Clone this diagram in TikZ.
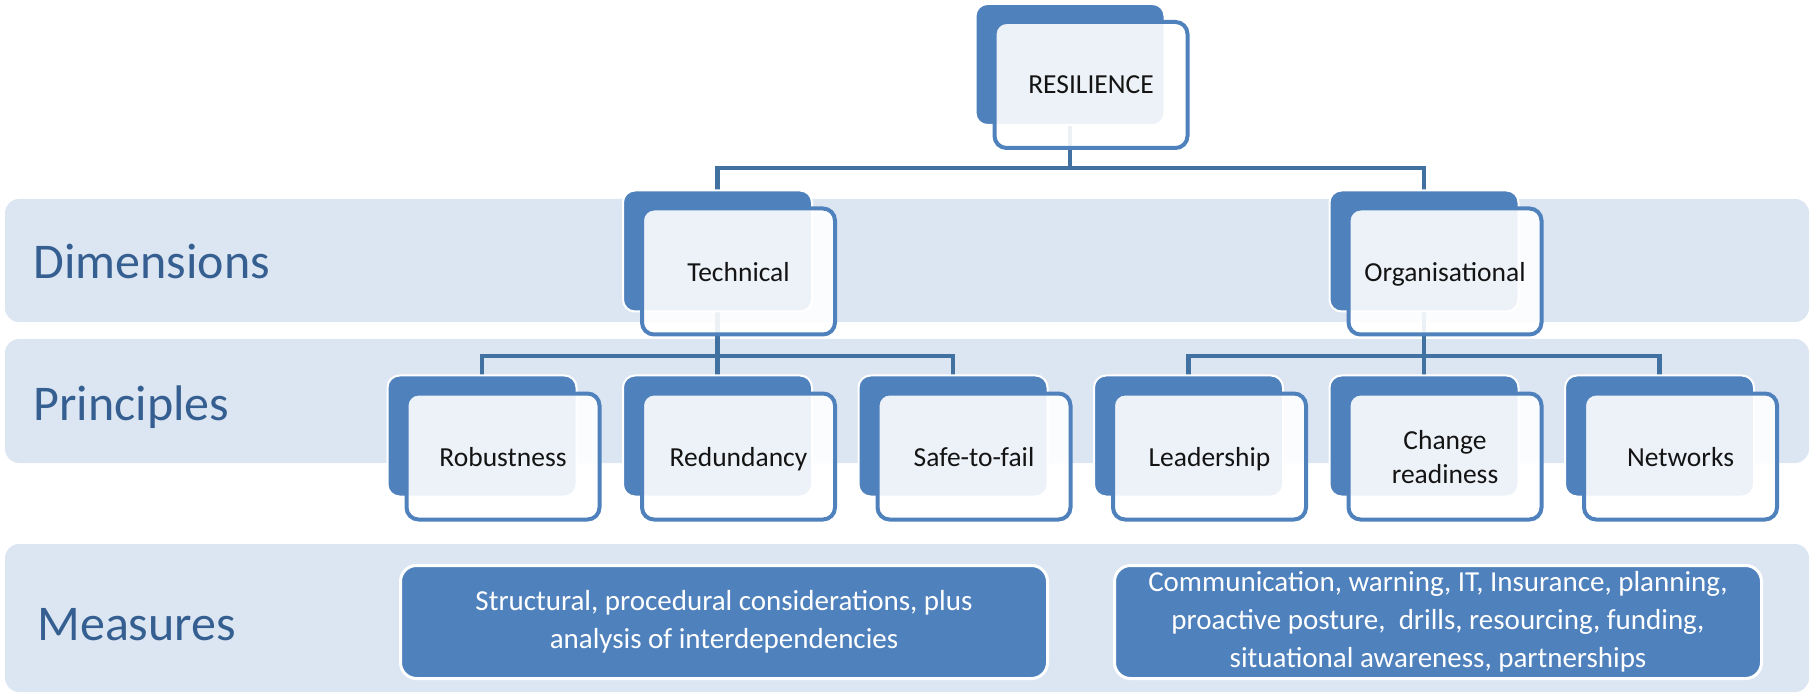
\documentclass[tikz,border=0pt]{standalone}
\usepackage{fontspec}
\setmainfont{Carlito}
\definecolor{dkblue}{RGB}{79,129,189}
\definecolor{bandc}{RGB}{220,230,242}
\definecolor{linec}{RGB}{65,113,160}
\definecolor{labelc}{RGB}{54,95,145}
\definecolor{txtc}{RGB}{20,20,20}
\pgfdeclarelayer{bg}
\pgfsetlayers{bg,main}
\tikzset{
  band/.style={fill=bandc, rounded corners=7pt},
  bandlabel/.style={anchor=base west, inner sep=0pt, text=labelc,
    font=\fontsize{25}{30}\selectfont},
  backbox/.style={draw=white, line width=1pt, fill=dkblue, rounded corners=6pt,
    minimum width=94.5pt, minimum height=60.5pt, inner sep=0pt},
  frontbox/.style={draw=dkblue, line width=2pt, fill=white, fill opacity=0.9,
    text opacity=1, rounded corners=6pt, minimum width=96.5pt, minimum height=63pt,
    inner sep=0pt, align=center, text depth=0pt, text=txtc,
    font=\fontsize{13.75}{17}\selectfont},
  measurebox/.style={draw=white, line width=1.5pt, fill=dkblue, rounded corners=8pt,
    minimum width=323.5pt, minimum height=56.5pt, inner sep=0pt, align=center,
    text=white, font=\fontsize{14.5}{19}\selectfont},
  conn/.style={draw=linec, line width=2.2pt},
}
\begin{document}
\begin{tikzpicture}[x=0.5pt, y=-0.5pt]
\useasboundingbox (0,0) rectangle (1816,695);

% horizontal bands
\begin{pgfonlayer}{bg}
  \path[band] (5,199) rectangle (1809,322);
  \path[band] (5,339) rectangle (1809,463);
  \path[band] (5,544) rectangle (1809,692);
\end{pgfonlayer}

\node[bandlabel] (lbldim) at (33,279) {Dimensions};
\node[bandlabel] (lblpri) at (33,420) {Principles};
\node[bandlabel] (lblmea) at (37,640) {Measures};

% two-layer boxes: dark back plate and light front card
\newcommand{\layerbox}[4]{%
  \node[backbox] (#1b) at (#2,#3) {};
  \node[frontbox] (#1) at ([shift={(21,20.5)}]#1b.center) {#4};
}

\layerbox{res}{1070}{64.5}{RESILIENCE}
\layerbox{tech}{717.5}{251}{Technical}
\layerbox{org}{1424}{251}{Organisational}
\layerbox{rob}{482}{436}{Robustness}
\layerbox{red}{717.5}{436}{Redundancy}
\layerbox{safe}{953}{436}{Safe-to-fail}
\layerbox{lead}{1188.5}{436}{Leadership}
\layerbox{chg}{1424}{436}{Change\\readiness}
\layerbox{net}{1659.5}{436}{Networks}

% connectors
\begin{pgfonlayer}{bg}
  \draw[conn] (resb.center) -- (resb.center |- 0,168);
  \draw[conn] (techb.center) |- (orgb.center |- 0,168) -- (orgb.center);
  \draw[conn] (techb.center) -- (techb.center |- 0,356);
  \draw[conn] (robb.center) |- (safeb.center |- 0,356) -- (safeb.center);
  \draw[conn] (redb.center |- 0,356) -- (redb.center);
  \draw[conn] (orgb.center) -- (orgb.center |- 0,356);
  \draw[conn] (leadb.center) |- (netb.center |- 0,356) -- (netb.center);
  \draw[conn] (chgb.center |- 0,356) -- (chgb.center);
\end{pgfonlayer}

% measures
\node[measurebox] (meastech) at (724,622)
  {Structural, procedural considerations, plus\\analysis of interdependencies};
\node[measurebox] (measorg) at (1438,622)
  {Communication, warning, IT, Insurance, planning,\\proactive posture,~ drills, resourcing, funding,\\situational awareness, partnerships};
\end{tikzpicture}
\end{document}
